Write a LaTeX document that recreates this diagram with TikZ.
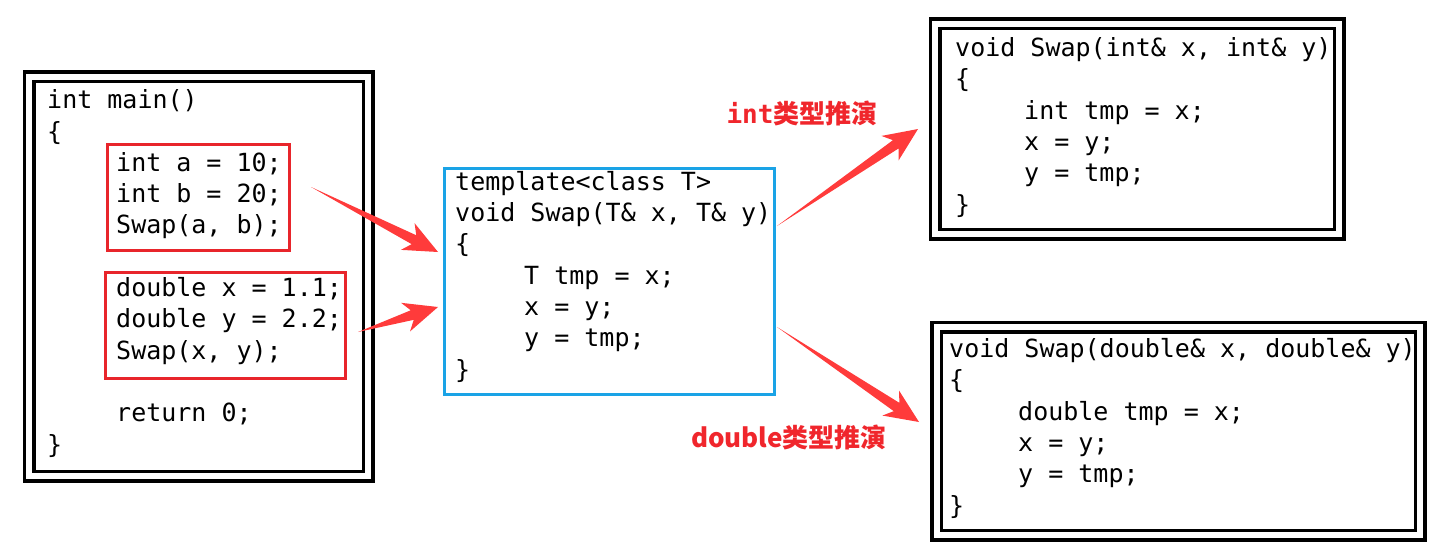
\documentclass[tikz,border=0pt]{standalone}
\usepackage{fontspec}
\setmonofont{DejaVu Sans Mono}
\newfontfamily\cjk{Noto Sans CJK SC}
\usetikzlibrary{calc,positioning}
\definecolor{boxred}{HTML}{E8252B}
\definecolor{arrowred}{HTML}{FF3B3B}
\definecolor{labelred}{HTML}{F0262C}
\definecolor{tplblue}{HTML}{1AA3E6}
\newcommand{\codefont}{\ttfamily\fontsize{25}{31.3}\selectfont}
\newcommand{\ind}{\hspace*{69pt}}
\newcommand{\fatarrow}[2]{%
  \coordinate (neck) at ($(#2)!27pt!(#1)$);
  \coordinate (barb) at ($(#2)!34pt!(#1)$);
  \fill[arrowred] (#1) -- ($(neck)!5pt!90:(#2)$) -- ($(barb)!15pt!90:(#2)$) -- (#2)
    -- ($(barb)!15pt!-90:(#2)$) -- ($(neck)!5pt!-90:(#2)$) -- cycle;}

\begin{document}
\begin{tikzpicture}[x=1pt, y=-1pt,
    frame/.style={draw, line width=3.5pt, double, double distance=6pt, inner sep=0pt},
    group/.style={draw=boxred, line width=3pt, inner sep=0pt},
    tpl/.style={draw=tplblue, line width=3pt, inner sep=0pt},
    code/.style={font=\codefont, align=left, anchor=base west, inner sep=0pt},
    deduce/.style={text=labelred, font=\fontsize{26}{30}\selectfont\bfseries, inner sep=0pt}
]
\useasboundingbox (0,0) rectangle (1443,552);

\node[frame, minimum width=339pt, minimum height=399.5pt] (mainframe) at (198.5,276.25) {};
\node[group, minimum width=182pt, minimum height=106pt] (intcall) at (198,197) {};
\node[group, minimum width=240pt, minimum height=106pt] (dblcall) at (225,325) {};
\node[code] (maincode) at (47,453) {int main()\\\{\\\ind int a = 10;\\\ind int b = 20;\\\ind Swap(a, b);\\\mbox{}\\
  \ind double x = 1.1;\\\ind double y = 2.2;\\\ind Swap(x, y);\\\mbox{}\\\ind return 0;\\\}};

\node[tpl, minimum width=330pt, minimum height=226pt] (tplframe) at (609,281) {};
\node[code] (tplcode) at (455,378) {template<class T>\\void Swap(T\& x, T\& y)\\\{\\\ind T tmp = x;\\\ind x = y;\\\ind y = tmp;\\\}};

\node[frame, minimum width=404pt, minimum height=210.5pt] (intframe) at (1137,128.75) {};
\node[code] (intcode) at (955,213) {void Swap(int\& x, int\& y)\\\{\\\ind int tmp = x;\\\ind x = y;\\\ind y = tmp;\\\}};

\node[frame, minimum width=483.5pt, minimum height=208pt] (dblframe) at (1178.25,431) {};
\node[code] (dblcode) at (949,514) {void Swap(double\& x, double\& y)\\\{\\\ind double tmp = x;\\\ind x = y;\\\ind y = tmp;\\\}};

\node[deduce] (intlbl) at (802,113) {{\ttfamily int}{\cjk 类型推演}};
\node[deduce] (dbllbl) at (789,437) {{\cjk double类型推演}};

\coordinate (intfrom) at (311,187);
\coordinate (intto) at (438,252);
\coordinate (dblfrom) at (358,332);
\coordinate (dblto) at (438,307);
\coordinate (upfrom) at (777,226);
\coordinate (upto) at (918,129);
\coordinate (downfrom) at (777,327);
\coordinate (downto) at (919,422);

\fatarrow{intfrom}{intto}
\fatarrow{dblfrom}{dblto}
\fatarrow{upfrom}{upto}
\fatarrow{downfrom}{downto}
\end{tikzpicture}
\end{document}
